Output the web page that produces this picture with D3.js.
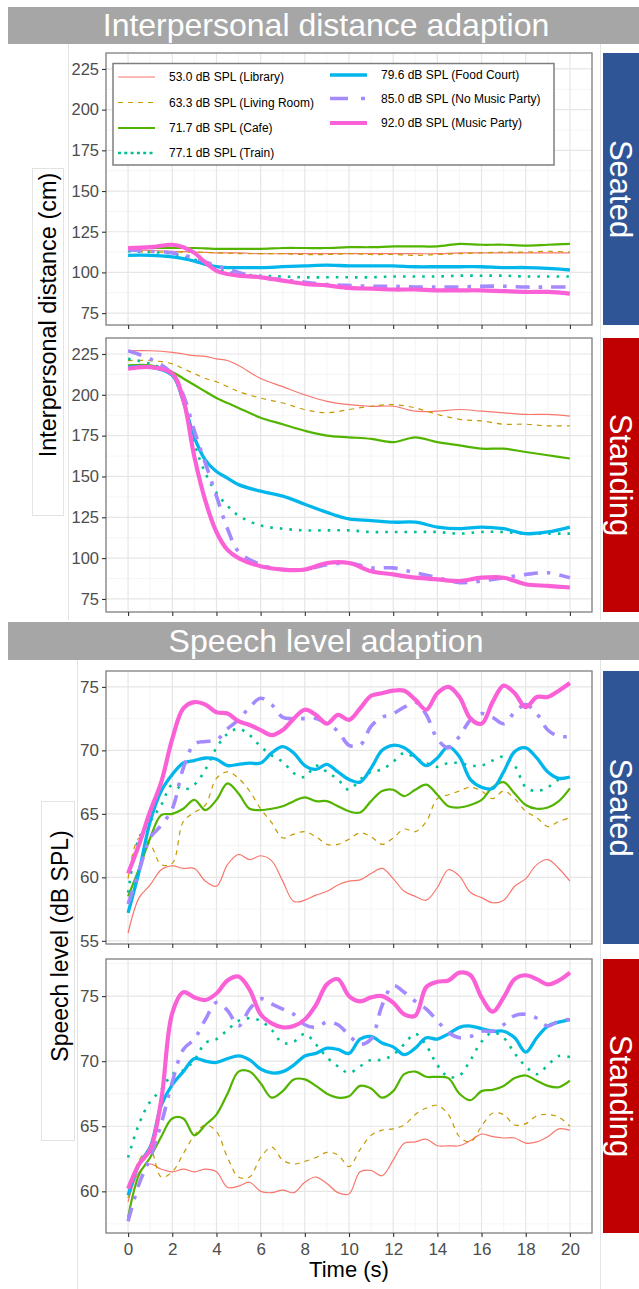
<!DOCTYPE html>
<html>
<head>
<meta charset="utf-8">
<script src="https://cdn.jsdelivr.net/npm/d3@7"></script>
<style>
  body { margin: 0; background: #fff; }
  svg { display: block; font-family: "Liberation Sans", Arial, Helvetica, sans-serif; }
</style>
</head>
<body>
<div id="chart"></div>
<script>
// ---- data ----
var seriesNames = ["53.0 dB SPL (Library)", "63.3 dB SPL (Living Room)", "71.7 dB SPL (Cafe)",
  "77.1 dB SPL (Train)", "79.6 dB SPL (Food Court)", "85.0 dB SPL (No Music Party)", "92.0 dB SPL (Music Party)"];

var timeTicks = [0, 2, 4, 6, 8, 10, 12, 14, 16, 18, 20];
var distTicks = [75, 100, 125, 150, 175, 200, 225];
var speechTicksSeated = [55, 60, 65, 70, 75];
var speechTicksStanding = [60, 65, 70, 75];

// time points (s)
var tDist = [0, 1, 2, 2.5, 3, 3.5, 4, 4.5, 5, 6, 7, 8, 9, 10, 11, 12, 13, 14, 15, 16, 17, 18, 19, 20];
var tSpeech = [0, 0.5, 1, 1.5, 2, 2.5, 3, 3.5, 4, 4.5, 5, 5.5, 6, 6.5, 7, 7.5, 8, 8.5, 9, 9.5, 10,
  10.5, 11, 11.5, 12, 12.5, 13, 13.5, 14, 14.5, 15, 15.5, 16, 16.5, 17, 17.5, 18, 18.5, 19, 19.5, 20];

// interpersonal distance (cm), one row per series
var distSeated = [
  [114, 113.5, 113, 112.8, 112.5, 112.3, 112, 112, 112, 111.5, 111.5, 111.5, 111.5, 111.5, 111.5, 111.5, 111.5, 111.5, 112, 112, 112, 112, 112, 112],
  [113, 112.5, 112.5, 112.5, 112.5, 112.3, 112, 111.8, 111.5, 111.5, 111.5, 111, 111, 111.5, 111, 111, 110.5, 111, 111.5, 112, 112.5, 112.5, 113, 112.5],
  [115, 115, 115, 115, 115, 114.8, 114.5, 114.5, 114.5, 114.5, 115, 115, 115, 115.5, 115.5, 116, 116, 116, 117.5, 117, 117, 116.5, 117, 117.5],
  [113, 112.5, 111.5, 110, 108, 105, 102, 100.5, 99, 98, 97.5, 97, 97, 97, 97, 97.5, 97.5, 97.5, 98, 98, 98, 97.5, 97.5, 97.5],
  [110.5, 110.5, 109.5, 108.5, 107, 105, 103.5, 103, 103, 103, 103.5, 104, 104.5, 104, 104, 104, 103.5, 103.5, 103.5, 103.5, 103, 103, 102.5, 101.5],
  [114, 113, 112, 110.5, 109, 106.5, 104, 102, 100, 97, 95.5, 94, 92.5, 92, 91.5, 91.5, 91, 91, 91, 91.5, 91.5, 91, 91, 91],
  [115, 115.5, 117, 115.5, 112, 106, 101, 99, 98, 97, 95, 93, 92, 90.5, 90, 89.5, 89.5, 89, 89, 89, 88.5, 88, 88, 87]
];
var distStanding = [
  [227, 227, 226, 225, 224, 223.5, 222, 221, 218, 210, 205, 200, 196, 194, 193, 193, 190, 190, 191, 190, 189, 188, 188, 187],
  [221, 221, 219, 216, 213, 210, 208, 205, 202, 198, 195, 191, 189, 191, 193, 194, 192, 188, 185, 184, 182, 182, 181, 181],
  [218, 218, 214, 210, 206, 202, 198, 195, 192, 186, 182, 178, 175, 174, 173, 171, 174, 171, 169, 167, 167, 165, 163, 161],
  [222, 219, 212, 195, 170, 152, 140, 132, 126, 120, 118, 117, 117, 117, 116, 116, 116, 116, 115, 116, 116, 115, 115, 115],
  [217, 217, 212, 196, 174, 160, 153, 149, 145, 141, 138, 133, 128, 124, 123, 122, 122, 119, 118, 119, 118, 115, 116, 119],
  [227, 222, 213, 200, 178, 158, 138, 118, 104, 96, 93, 93, 96, 97, 94, 94, 91, 88, 85, 86, 88, 90, 91, 88],
  [216, 217, 213, 197, 162, 135, 116, 105, 100, 95, 93, 93, 97, 97, 92, 90, 88, 87, 86, 88, 88, 84, 83, 82]
];

// speech level (dB SPL), one row per series
var speechSeated = [
  [55.6, 58.4, 59.4, 60.6, 60.9, 60.7, 60.7, 59.7, 59.3, 61.0, 61.8, 61.4, 61.7, 61.3, 59.7, 58.1, 58.2, 58.6, 58.9, 59.4, 59.7, 59.8, 60.3, 60.7, 59.9, 58.9, 58.5, 58.2, 59.2, 60.6, 60.1, 58.8, 58.4, 58.0, 58.2, 59.3, 59.9, 61.0, 61.4, 60.7, 59.7],
  [59.9, 63.1, 62.6, 61.0, 61.1, 64.4, 65.1, 65.7, 67.8, 68.3, 67.8, 66.8, 65.4, 64.3, 63.1, 63.4, 63.6, 63.2, 62.6, 62.6, 63.0, 63.5, 63.2, 62.6, 63.1, 63.8, 63.6, 64.4, 66.2, 66.5, 66.8, 67.1, 66.8, 66.2, 66.8, 66.2, 65.2, 64.7, 64.0, 64.4, 64.7],
  [58.5, 60.7, 63.1, 64.9, 65.0, 65.4, 66.1, 65.3, 66.1, 67.4, 66.6, 65.4, 65.3, 65.4, 65.6, 66.0, 66.3, 66.0, 66.0, 65.6, 65.2, 65.1, 66.0, 66.8, 66.9, 66.4, 66.9, 67.3, 66.5, 65.6, 65.5, 65.7, 66.1, 67.1, 67.5, 66.6, 65.7, 65.4, 65.5, 66.0, 67.0],
  [58.8, 63.1, 64.4, 65.7, 67.3, 66.9, 67.3, 68.5, 70.2, 71.3, 71.7, 71.2, 70.3, 69.6, 69.1, 68.2, 67.9, 68.8, 68.3, 67.7, 66.9, 67.7, 68.3, 68.5, 69.1, 69.8, 69.4, 69.0, 68.7, 69.0, 69.0, 68.8, 68.8, 69.2, 69.5, 68.8, 67.1, 66.8, 67.1, 67.7, 67.9],
  [57.2, 60.5, 64.4, 66.8, 68.1, 69.0, 69.2, 69.4, 69.3, 68.8, 68.9, 69.0, 69.0, 69.8, 70.3, 69.8, 68.8, 68.5, 68.9, 68.3, 67.7, 67.5, 68.6, 70.0, 70.4, 70.2, 69.5, 68.8, 69.4, 70.3, 69.5, 67.7, 67.1, 67.0, 68.3, 69.9, 70.2, 69.4, 68.3, 67.8, 67.9],
  [57.9, 60.5, 63.1, 64.1, 65.4, 68.6, 70.5, 70.7, 70.8, 71.7, 72.4, 73.4, 74.1, 73.6, 72.6, 72.5, 72.5, 72.5, 72.1, 71.5, 70.4, 70.4, 71.9, 72.6, 72.9, 73.4, 73.8, 72.8, 70.9, 70.2, 71.1, 72.4, 72.9, 72.6, 72.1, 73.0, 73.6, 72.9, 71.6, 71.1, 71.1],
  [60.3, 62.6, 65.2, 67.5, 70.9, 73.3, 73.8, 73.6, 73.0, 72.9, 72.3, 72.0, 71.6, 71.2, 71.6, 72.5, 73.2, 72.8, 72.1, 72.8, 72.4, 73.3, 74.3, 74.5, 74.7, 74.7, 74.0, 73.2, 74.5, 75.0, 74.2, 72.5, 72.1, 73.8, 75.1, 74.5, 73.4, 74.2, 74.2, 74.7, 75.3]
];
var speechStanding = [
  [59.2, 61.5, 62.1, 61.7, 61.5, 61.7, 61.5, 61.7, 61.5, 60.3, 60.4, 60.7, 60.0, 59.9, 60.1, 59.9, 60.7, 61.1, 60.6, 59.9, 59.8, 61.5, 61.6, 61.2, 62.4, 63.7, 63.8, 64.0, 63.5, 63.5, 63.5, 63.9, 64.4, 64.2, 64.1, 64.1, 63.7, 63.8, 64.2, 64.8, 64.7],
  [59.5, 62.4, 63.2, 61.1, 61.5, 62.9, 64.3, 65.1, 64.6, 62.6, 61.1, 61.1, 62.6, 63.4, 62.4, 62.1, 62.3, 62.6, 63.0, 62.8, 61.9, 63.2, 64.3, 64.7, 64.8, 65.1, 65.9, 66.4, 66.6, 65.9, 64.2, 63.8, 65.0, 66.0, 65.9, 65.1, 65.2, 65.8, 65.9, 65.7, 65.0],
  [58.0, 61.3, 62.6, 64.2, 65.6, 65.6, 64.3, 65.1, 65.9, 67.5, 69.2, 69.2, 68.3, 67.2, 67.7, 68.6, 68.6, 68.1, 67.5, 67.2, 67.3, 68.1, 67.9, 67.2, 67.7, 69.0, 69.2, 68.8, 68.8, 68.7, 67.5, 67.0, 67.7, 67.8, 68.1, 68.7, 68.9, 68.5, 68.1, 68.0, 68.5],
  [62.6, 65.2, 66.9, 67.8, 69.0, 69.3, 70.1, 71.4, 71.7, 72.4, 73.1, 73.3, 73.1, 72.4, 71.4, 71.5, 72.1, 71.3, 70.3, 69.6, 69.1, 69.6, 70.1, 70.1, 70.5, 71.3, 72.1, 71.2, 69.7, 68.8, 68.9, 70.1, 71.5, 72.2, 71.8, 70.6, 69.6, 69.0, 69.7, 70.4, 70.3],
  [59.7, 62.1, 63.4, 66.6, 68.2, 69.2, 70.2, 70.0, 69.9, 70.2, 70.4, 70.1, 69.4, 69.1, 69.2, 69.7, 70.4, 70.6, 71.0, 70.9, 70.6, 71.7, 71.9, 71.4, 71.1, 70.5, 71.0, 71.8, 71.7, 72.1, 72.6, 72.7, 72.5, 72.3, 72.3, 71.8, 70.7, 71.8, 72.7, 73.0, 73.2],
  [57.7, 60.6, 62.6, 65.2, 68.4, 70.9, 71.7, 73.2, 74.5, 73.9, 72.7, 74.0, 74.8, 74.4, 74.0, 73.6, 72.8, 72.6, 73.0, 72.8, 72.0, 71.3, 71.7, 74.3, 75.8, 75.3, 74.6, 74.0, 73.1, 72.2, 71.8, 71.9, 72.3, 72.3, 72.8, 73.5, 73.6, 73.3, 72.7, 73.1, 73.2],
  [60.2, 62.1, 63.2, 67.0, 73.7, 75.3, 74.9, 74.7, 75.2, 76.2, 76.5, 75.5, 73.6, 72.9, 72.6, 72.7, 73.2, 74.3, 75.9, 76.3, 75.0, 74.6, 74.9, 75.0, 74.5, 73.6, 73.5, 75.7, 76.1, 76.2, 76.8, 76.6, 74.9, 73.8, 74.9, 76.3, 76.6, 76.3, 75.9, 76.2, 76.8]
];

// ---- styles ----
var colors = ["#F8766D", "#C49A00", "#53B400", "#00C094", "#00B6EB", "#A58AFF", "#FB61D7"];
var widths = [1.2, 1.2, 2.2, 2.6, 3.3, 3.6, 4.2];
var dashes = [null, "5,5", null, "2.6,7", null, "14,9,3.6,9", null];
var keyDashes = [null, "5,5", null, "3,3.3", null, "18,13,4,13", null];

var W = 639, H = 1289;
var svg = d3.select("#chart").append("svg").attr("width", W).attr("height", H);

// composite background bits
var bg = svg.append("g").attr("stroke", "#e3e3e3").attr("fill", "none");
bg.append("line").attr("x1", 68.5).attr("x2", 68.5).attr("y1", 44).attr("y2", 620);
bg.append("line").attr("x1", 600.5).attr("x2", 600.5).attr("y1", 44).attr("y2", 620);
bg.append("line").attr("x1", 77.5).attr("x2", 77.5).attr("y1", 660).attr("y2", H);
bg.append("line").attr("x1", 600.5).attr("x2", 600.5).attr("y1", 660).attr("y2", H);
bg.append("rect").attr("x", 32.5).attr("y", 168.5).attr("width", 31).attr("height", 347).attr("fill", "#fff");
bg.append("rect").attr("x", 41.5).attr("y", 801.5).attr("width", 33).attr("height", 339).attr("fill", "#fff");

// title bars
function titleBar(y0, y1, label) {
  svg.append("rect").attr("x", 8).attr("y", y0).attr("width", W - 8).attr("height", y1 - y0).attr("fill", "#a6a6a6");
  svg.append("text").attr("x", 326).attr("y", y1 - 8).attr("text-anchor", "middle")
    .attr("fill", "#fff").attr("font-size", 32).text(label);
}
titleBar(7, 44, "Interpersonal distance adaption");
titleBar(622, 660, "Speech level adaption");

var x = d3.scaleLinear().domain([-1, 21]).range([106, 592]);

var panels = [
  { top: 53, bottom: 325, domain: [67.7, 234.8], ticks: distTicks, minor: 12.5, t: tDist, values: distSeated, strip: "Seated", fill: "#2f5597", labels: false, fs: 16.5 },
  { top: 338, bottom: 612, domain: [67, 234.8], ticks: distTicks, minor: 12.5, t: tDist, values: distStanding, strip: "Standing", fill: "#c00000", labels: false, fs: 16.5 },
  { top: 671, bottom: 944, domain: [54.75, 76.25], ticks: speechTicksSeated, minor: 2.5, t: tSpeech, values: speechSeated, strip: "Seated", fill: "#2f5597", labels: false, fs: 17 },
  { top: 959, bottom: 1233, domain: [56.8, 77.85], ticks: speechTicksStanding, minor: 2.5, t: tSpeech, values: speechStanding, strip: "Standing", fill: "#c00000", labels: true, fs: 17 }
];

panels.forEach(function (p) {
  var y = d3.scaleLinear().domain(p.domain).range([p.bottom, p.top]);
  var g = svg.append("g");

  // grid
  var yMinor = d3.range(p.ticks[0] - p.minor, p.domain[1], p.minor * 2).filter(function (v) { return v > p.domain[0]; });
  var xMinor = d3.range(-1, 22, 2);
  g.selectAll(".ym").data(yMinor).enter().append("line")
    .attr("x1", x.range()[0]).attr("x2", x.range()[1]).attr("y1", y).attr("y2", y)
    .attr("stroke", "#f2f2f2").attr("stroke-width", 0.8);
  g.selectAll(".xm").data(xMinor).enter().append("line")
    .attr("x1", x).attr("x2", x).attr("y1", p.top).attr("y2", p.bottom)
    .attr("stroke", "#f2f2f2").attr("stroke-width", 0.8);
  g.selectAll(".yM").data(p.ticks).enter().append("line")
    .attr("x1", x.range()[0]).attr("x2", x.range()[1]).attr("y1", y).attr("y2", y)
    .attr("stroke", "#e6e6e6").attr("stroke-width", 1.2);
  g.selectAll(".xM").data(timeTicks).enter().append("line")
    .attr("x1", x).attr("x2", x).attr("y1", p.top).attr("y2", p.bottom)
    .attr("stroke", "#e6e6e6").attr("stroke-width", 1.2);

  // lines
  var line = d3.line()
    .x(function (d, i) { return x(p.t[i]); })
    .y(function (d) { return y(d); })
    .curve(d3.curveCatmullRom.alpha(0.5));
  p.values.forEach(function (vals, k) {
    g.append("path").datum(vals).attr("d", line).attr("fill", "none")
      .attr("stroke", colors[k]).attr("stroke-width", widths[k])
      .attr("stroke-dasharray", dashes[k]).attr("stroke-linejoin", "round");
  });

  // border
  g.append("rect").attr("x", x.range()[0]).attr("y", p.top)
    .attr("width", x.range()[1] - x.range()[0]).attr("height", p.bottom - p.top)
    .attr("fill", "none").attr("stroke", "#7f7f7f").attr("stroke-width", 1.3);

  // axes
  var ya = g.append("g").attr("transform", "translate(" + x.range()[0] + ",0)")
    .call(d3.axisLeft(y).tickValues(p.ticks).tickSize(4).tickPadding(3));
  var xa = g.append("g").attr("transform", "translate(0," + p.bottom + ")")
    .call(d3.axisBottom(x).tickValues(timeTicks).tickSize(4).tickPadding(6)
      .tickFormat(p.labels ? d3.format("d") : ""));
  [ya, xa].forEach(function (a) {
    a.select(".domain").remove();
    a.selectAll(".tick line").attr("stroke", "#333").attr("stroke-width", 1.1);
    a.selectAll(".tick text").attr("fill", "#4d4d4d").attr("font-size", p.fs)
      .attr("font-family", "Liberation Sans, Arial, sans-serif");
  });

  // strip
  svg.append("rect").attr("x", 603).attr("y", p.top).attr("width", W - 603)
    .attr("height", p.bottom - p.top).attr("fill", p.fill);
  svg.append("text").attr("transform", "translate(620," + (p.top + p.bottom) / 2 + ") rotate(90)")
    .attr("text-anchor", "middle").attr("dominant-baseline", "central")
    .attr("fill", "#fff").attr("font-size", 31).text(p.strip);
});

// axis titles
svg.append("text").attr("transform", "translate(48,315) rotate(-90)")
  .attr("text-anchor", "middle").attr("dominant-baseline", "central")
  .attr("font-size", 23.5).attr("fill", "#000").text("Interpersonal distance (cm)");
svg.append("text").attr("transform", "translate(60,946) rotate(-90)")
  .attr("text-anchor", "middle").attr("dominant-baseline", "central")
  .attr("font-size", 23).attr("fill", "#000").text("Speech level (dB SPL)");
svg.append("text").attr("x", 349).attr("y", 1277).attr("text-anchor", "middle")
  .attr("font-size", 22).attr("fill", "#000").text("Time (s)");

// legend
var leg = svg.append("g");
leg.append("rect").attr("x", 113).attr("y", 63.5).attr("width", 441).attr("height", 101.5)
  .attr("fill", "#fff").attr("stroke", "#7f7f7f").attr("stroke-width", 1.5);
var keyPos = [
  { x: 118, y: 77 }, { x: 118, y: 102.5 }, { x: 118, y: 128 }, { x: 118, y: 153 },
  { x: 330, y: 75 }, { x: 330, y: 98.5 }, { x: 330, y: 123 }
];
seriesNames.forEach(function (name, k) {
  var kp = keyPos[k];
  leg.append("line").attr("x1", kp.x).attr("x2", kp.x + 37).attr("y1", kp.y).attr("y2", kp.y)
    .attr("stroke", colors[k]).attr("stroke-width", widths[k]).attr("stroke-dasharray", keyDashes[k]);
  leg.append("text").attr("x", kp.x + 51).attr("y", kp.y).attr("dominant-baseline", "central")
    .attr("font-size", 12).attr("fill", "#000").text(name);
});
</script>
</body>
</html>
